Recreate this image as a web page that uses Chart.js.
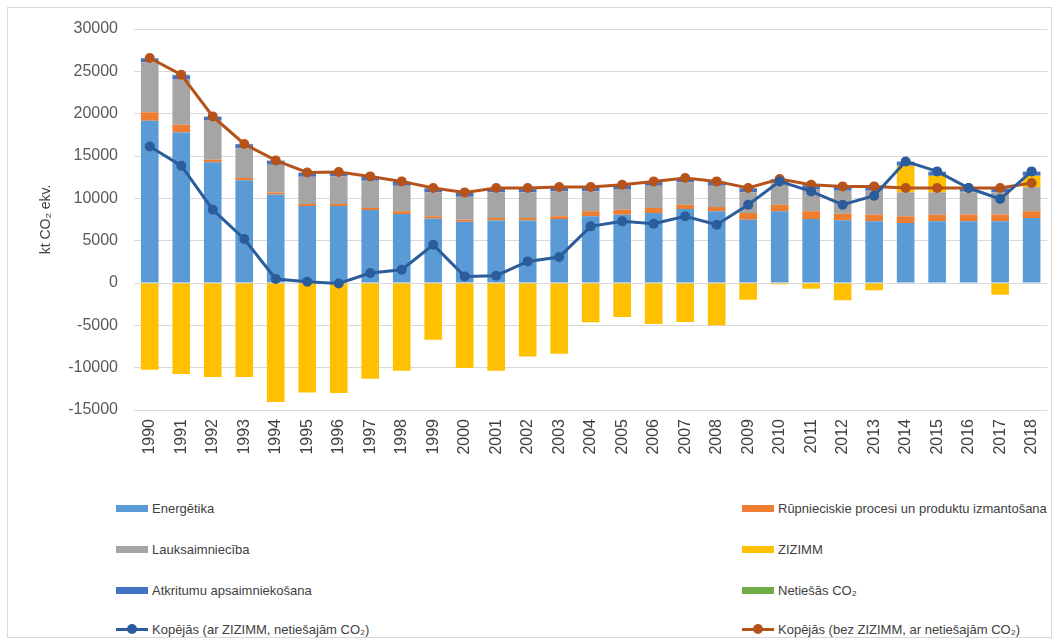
<!DOCTYPE html>
<html>
<head>
<meta charset="utf-8">
<script src="https://cdn.jsdelivr.net/npm/chart.js@4"></script>
<style>
  html, body { margin: 0; padding: 0; background: #fff; }
  body { width: 1060px; height: 643px; position: relative; overflow: hidden; font-family: "Liberation Sans", Arial, sans-serif; }
  #frame { position: absolute; left: 7px; top: 7px; width: 1045px; height: 631px; border: 1px solid #d9d9d9; box-sizing: border-box; }
  #wrap { position: absolute; left: 0; top: 0; width: 1060px; height: 470px; }
  .lg { position: absolute; display: flex; align-items: center; font-size: 13px; color: #404040; white-space: nowrap; }
  .sw { width: 32px; height: 7px; margin-right: 4px; }
  .ln { width: 32px; height: 12px; margin-right: 4px; position: relative; }
  .ln i { position: absolute; left: 0; right: 0; top: 5px; height: 3px; }
  .ln b { position: absolute; left: 11px; top: 1px; width: 10px; height: 10px; border-radius: 50%; }
</style>
</head>
<body>
<div id="frame"></div>
<div id="wrap"><canvas id="c" width="1060" height="470"></canvas></div>
<div id="legend"></div>
<script>
const years = ['1990','1991','1992','1993','1994','1995','1996','1997','1998','1999','2000','2001','2002','2003','2004','2005','2006','2007','2008','2009','2010','2011','2012','2013','2014','2015','2016','2017','2018'];
const energetika = [19170,17790,14260,12150,10450,9080,9080,8610,8160,7620,7230,7380,7380,7570,7870,8070,8270,8740,8460,7480,8460,7560,7400,7280,7090,7280,7280,7280,7680];
const rupnieciskie = [1000,900,300,250,250,250,250,250,300,250,250,300,300,300,590,590,590,510,520,790,790,900,790,790,780,790,800,800,780];
const lauksaimnieciba = [5900,5410,4620,3520,3280,3230,3270,3230,3040,2850,2720,3040,3040,2970,2380,2450,2640,2650,2520,2450,2530,2650,2720,2840,2850,2650,2640,2640,2850];
const zizimm = [-10240,-10750,-11100,-11100,-14060,-12920,-13000,-11300,-10360,-6700,-10040,-10360,-8670,-8350,-4650,-4020,-4840,-4610,-5000,-1970,-150,-670,-2050,-870,3140,1960,50,-1380,1370];
const atkritumi = [450,450,460,460,460,450,450,450,450,450,450,450,450,450,450,450,450,450,450,450,450,450,450,450,450,450,450,450,450];
const netiesas = [50,50,40,40,40,50,50,50,50,50,50,50,50,50,50,50,50,50,50,50,50,50,50,50,50,50,50,50,50];
const kopejasAr = [16130,13850,8660,5200,470,150,-50,1180,1570,4520,780,860,2550,3070,6690,7280,7000,7870,6890,9250,12000,10820,9250,10310,14360,13180,11220,9920,13180];
const kopejasBez = [26570,24600,19680,16420,14480,13060,13100,12590,12000,11220,10700,11220,11220,11340,11340,11610,12000,12400,12000,11220,12280,11610,11410,11410,11220,11220,11220,11220,11810];
const yTicks = [30000,25000,20000,15000,10000,5000,0,-5000,-10000,-15000];

const seriesNames = ['Energētika','Rūpnieciskie procesi un produktu izmantošana','Lauksaimniecība','ZIZIMM','Atkritumu apsaimniekošana','Netiešās CO₂','Kopējās (ar ZIZIMM, netiešajām CO₂)','Kopējās (bez ZIZIMM, ar netiešajām CO₂)'];
const colors = ['#5B9BD5','#ED7D31','#A5A5A5','#FFC000','#4472C4','#70AD47','#2B5C9B','#B5531A'];

function bar(i, data) {
  return { type: 'bar', label: seriesNames[i], data, backgroundColor: colors[i], borderWidth: 0, stack: 'bars', order: 2,
           categoryPercentage: 0.56, barPercentage: 1.0 };
}
function line(i, data, stack) {
  return { type: 'line', label: seriesNames[i], data, borderColor: colors[i], backgroundColor: colors[i],
           pointBackgroundColor: colors[i], pointBorderColor: colors[i], pointRadius: 5, pointBorderWidth: 0,
           borderWidth: 3, tension: 0, fill: false, stack, order: 0 };
}

const ctx = document.getElementById('c');
new Chart(ctx, {
  data: {
    labels: years,
    datasets: [
      bar(0, energetika), bar(1, rupnieciskie), bar(2, lauksaimnieciba), bar(3, zizimm), bar(4, atkritumi), bar(5, netiesas),
      line(6, kopejasAr, 'l1'), line(7, kopejasBez, 'l2')
    ]
  },
  options: {
    responsive: false,
    animation: false,
    devicePixelRatio: 1,
    layout: { padding: { left: 0, right: 10, top: 29, bottom: 0 } },
    plugins: { legend: { display: false }, tooltip: { enabled: false } },
    scales: {
      x: {
        stacked: true,
        grid: { display: false, drawTicks: false },
        border: { display: false },
        ticks: { color: '#404040', font: { family: 'Liberation Sans', size: 16 }, minRotation: 90, maxRotation: 90, padding: 9, autoSkip: false },
        afterFit: s => { s.height = 470 - 29 - 381; }
      },
      y: {
        stacked: true,
        min: -15000, max: 30000,
        afterBuildTicks: s => { s.ticks = yTicks.map(v => ({ value: v })); },
        grid: { color: '#d9d9d9', lineWidth: 1, drawTicks: false },
        border: { display: false },
        ticks: { color: '#595959', font: { family: 'Liberation Sans', size: 16 }, padding: 16, callback: v => String(v) },
        title: { display: true, text: 'kt CO₂ ekv.', color: '#404040', font: { family: 'Liberation Sans', size: 14 }, padding: { top: 38, bottom: 0 } },
        afterFit: s => { s.width = 134; }
      }
    }
  }
});

// legend (two columns, four rows, like the original)
const legendPos = [
  [0, 116, 508], [1, 742, 508],
  [2, 116, 549], [3, 742, 549],
  [4, 116, 590], [5, 742, 590],
  [6, 116, 629], [7, 742, 629]
];
const lg = document.getElementById('legend');
legendPos.forEach(([i, x, y]) => {
  const d = document.createElement('div');
  d.className = 'lg';
  d.style.left = x + 'px';
  d.style.top = (y - 9) + 'px';
  d.style.height = '18px';
  let mark;
  if (i < 6) {
    mark = '<span class="sw" style="background:' + colors[i] + '"></span>';
  } else {
    mark = '<span class="ln"><i style="background:' + colors[i] + '"></i><b style="background:' + colors[i] + '"></b></span>';
  }
  const span = document.createElement('span');
  span.textContent = seriesNames[i];
  d.innerHTML = mark;
  d.appendChild(span);
  lg.appendChild(d);
});
</script>
</body>
</html>
